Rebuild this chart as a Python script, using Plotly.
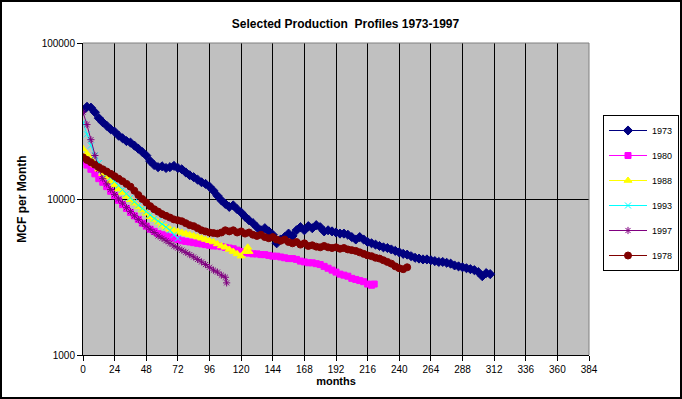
import plotly.graph_objects as go

# ---------------- data ----------------
months_1973 = list(range(0, 310, 3))
vals_1973 = [37000, 39000, 38500, 36000, 33000, 31000, 29500, 28000, 27000, 25500,
             24500, 23500, 23000, 22000, 21000, 20000, 19000, 17500, 16500, 16000,
             16200, 15800, 16000, 16300, 15800, 15500, 14800, 14200, 13800, 13300,
             12800, 12500, 12000, 11300, 10500, 9800, 9300, 8900, 9100, 8600,
             8200, 7700, 7300, 7000, 6600, 6300, 6500, 6200, 5900, 5200,
             5500, 5700, 6000, 5800, 6300, 6600, 6300, 6700, 6500, 6800,
             6600, 6200, 6300, 6200, 6100, 6000, 6000, 5900, 5700, 5500,
             5700, 5500, 5300, 5200, 5100, 5000, 4900, 4850, 4750, 4650,
             4550, 4450, 4400, 4300, 4200, 4150, 4100, 4100, 4050, 4000,
             3950, 3950, 3900, 3850, 3750, 3700, 3650, 3600, 3550, 3500,
             3400, 3200, 3350, 3300]

months_1980 = list(range(0, 220, 3)) + [221]
vals_1980 = [17500, 16500, 15500, 14500, 13500, 12800, 12000, 11200, 10500, 9800,
             9200, 8700, 8200, 7800, 7400, 7000, 6700, 6400, 6200, 6000,
             5900, 5800, 5700, 5600, 5500, 5400, 5350, 5300, 5250, 5200,
             5150, 5100, 5050, 5000, 5000, 4950, 4900, 4850, 4800, 4700,
             4600, 4550, 4500, 4450, 4450, 4400, 4400, 4350, 4300, 4300,
             4250, 4200, 4150, 4150, 4100, 4000, 3950, 3900, 3900, 3850,
             3800, 3700, 3600, 3500, 3400, 3300, 3250, 3200, 3100, 3050,
             3000, 2950, 2850, 2800, 2850]

months_1988 = list(range(0, 124, 3)) + [125, 126]
vals_1988 = [21000, 19500, 18000, 16500, 15500, 14500, 13800, 13000, 12300, 11600,
             11000, 10400, 9900, 9400, 8900, 8500, 8100, 7700, 7400, 7100,
             6800, 6600, 6400, 6300, 6200, 6100, 6000, 5900, 5800, 5700,
             5600, 5500, 5400, 5300, 5150, 5000, 4900, 4750, 4600, 4450,
             4300, 4600, 4900, 4600]

months_1993 = list(range(0, 73, 3))
vals_1993 = [31000, 26000, 22000, 19000, 17000, 15500, 14500, 13700, 13000, 12200,
             11500, 10800, 10200, 9600, 9100, 8700, 8300, 7900, 7500, 7200,
             6900, 6600, 6300, 5900, 5600]

months_1997 = list(range(0, 109, 3)) + [109]
vals_1997 = [36000, 30000, 24000, 19000, 15500, 13500, 12500, 11500, 10700, 10000,
             9400, 8800, 8300, 7800, 7400, 7000, 6700, 6400, 6100, 5800,
             5600, 5400, 5200, 5000, 4850, 4700, 4550, 4400, 4250, 4100,
             3950, 3800, 3650, 3500, 3400, 3250, 3150, 2900]

months_1978 = list(range(0, 247, 3))
vals_1978 = [18500, 17800, 17200, 16600, 16000, 15500, 15000, 14500, 14000, 13500,
             13000, 12500, 12000, 11300, 10600, 10000, 9500, 9000, 8600, 8300,
             8000, 7800, 7600, 7400, 7300, 7200, 7000, 6800, 6700, 6500,
             6300, 6200, 6100, 6050, 6000, 6100, 6300, 6200, 6300, 6100,
             6200, 6000, 6100, 5900, 5800, 5900, 5700, 5600, 5700, 5500,
             5400, 5500, 5300, 5200, 5300, 5100, 5200, 5000, 5050, 4950,
             4900, 5000, 4900, 4850, 4900, 4800, 4850, 4750, 4700, 4650,
             4550, 4450, 4350, 4300, 4200, 4150, 4050, 3950, 3850, 3700,
             3600, 3550, 3650]

x_ticks = list(range(0, 385, 24))
y_ticks = [1000, 10000, 100000]
y_tick_labels = ["1000", "10000", "100000"]

title_text = "Selected Production  Profiles 1973-1997"
x_title = "months"
y_title = "MCF per Month"

# ---------------- figure ----------------
W, H = 682, 399
L, R, T, B = 83, 93, 43, 44
pw, ph = W - L - R, H - T - B

series = [
    ("1973", months_1973, vals_1973, "#000080", "diamond", 7),
    ("1980", months_1980, vals_1980, "#FF00FF", "square", 6),
    ("1988", months_1988, vals_1988, "#FFFF00", "triangle-up", 7),
    ("1993", months_1993, vals_1993, "#00FFFF", "x-thin-open", 6),
    ("1997", months_1997, vals_1997, "#800080", "asterisk-open", 6),
    ("1978", months_1978, vals_1978, "#800000", "circle", 7),
]

fig = go.Figure()
for name, xs, ys, col, sym, sz in series:
    fig.add_trace(go.Scatter(
        x=xs, y=ys, name=name, mode="lines+markers", legendgroup=name,
        line=dict(color=col, width=1),
        marker=dict(symbol=sym, size=sz, color=col,
                    line=dict(color=col, width=1)),
    ))

font = "Arial, Liberation Sans, sans-serif"

fig.update_layout(
    width=W, height=H,
    margin=dict(l=L, r=R, t=T, b=B, autoexpand=False),
    paper_bgcolor="white",
    plot_bgcolor="#C0C0C0",
    font=dict(family=font, size=10, color="black"),
    title=dict(text="<b>" + title_text + "</b>", x=345.5 / W, xanchor="center",
               y=1 - 24 / H, yanchor="middle", font=dict(size=12, family=font)),
    showlegend=True,
    legend=dict(x=(603 - L) / pw, y=1 - (115 - T) / ph, xanchor="left", yanchor="top",
                bgcolor="white", bordercolor="black", borderwidth=1,
                font=dict(size=9, family=font), tracegroupgap=6, itemwidth=38),
    xaxis=dict(range=[0, 384], tickvals=x_ticks, ticks="outside", ticklen=5,
               tickcolor="black", showline=True, linecolor="black", linewidth=1,
               showgrid=True, gridcolor="black", gridwidth=1, zeroline=False,
               tickfont=dict(size=10), fixedrange=True,
               title=dict(text="<b>" + x_title + "</b>", font=dict(size=11), standoff=3)),
    yaxis=dict(type="log", range=[3, 5], tickvals=y_ticks, ticktext=y_tick_labels,
               ticks="outside", ticklen=5, tickcolor="black", showline=True,
               linecolor="black", linewidth=1, showgrid=True, gridcolor="black",
               gridwidth=1, zeroline=False, tickfont=dict(size=10),
               title=dict(text="<b>" + y_title + "</b>", font=dict(size=12), standoff=12)),
    shapes=[
        dict(type="line", xref="paper", yref="paper", x0=0, x1=1, y0=1, y1=1,
             line=dict(color="#808080", width=1)),
        dict(type="line", xref="paper", yref="paper", x0=1, x1=1, y0=0, y1=1,
             line=dict(color="#808080", width=1)),
        dict(type="rect", xref="paper", yref="paper",
             x0=(1 - L) / pw, x1=(W - 1 - L) / pw,
             y0=(T + ph - (H - 1)) / ph, y1=1 + (T - 1) / ph,
             line=dict(color="black", width=2), layer="above"),
    ],
)

fig.write_html("out.html", config={"displayModeBar": False},
               post_script="document.body.style.margin='0';document.body.style.overflow='hidden';")
